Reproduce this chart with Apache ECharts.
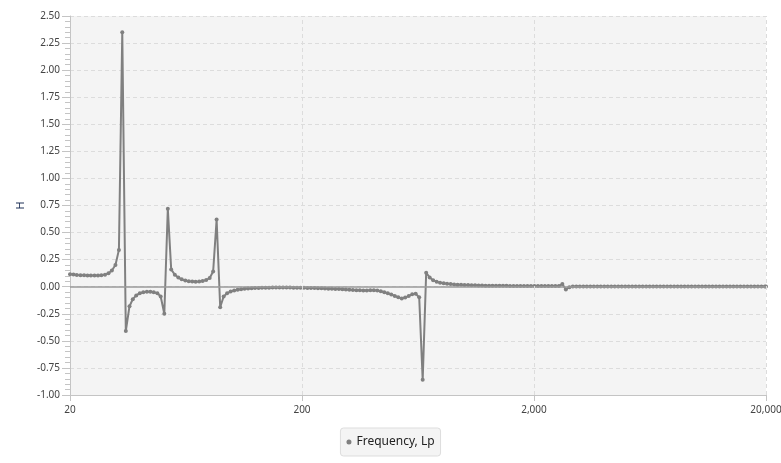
<!DOCTYPE html>
<html>
<head>
<meta charset="utf-8">
<script src="https://cdn.jsdelivr.net/npm/echarts@6/dist/echarts.min.js"></script>
<style>
html,body{margin:0;padding:0;background:#fff;}
#chart{width:781px;height:463px;}
</style>
</head>
<body>
<div id="chart"></div>
<script>
// Frequencies (Hz), 1/20-octave grid
const freqs = [
  20.0, 20.7, 21.4, 22.2, 23.0, 23.8, 24.6, 25.5, 26.4, 27.3, 28.3, 29.3, 30.3, 31.4, 32.5, 33.6, 34.8, 36.1, 37.3, 38.6,
  40.0, 41.4, 42.9, 44.4, 45.9, 47.6, 49.2, 51.0, 52.8, 54.6, 56.6, 58.6, 60.6, 62.8, 65.0, 67.3, 69.6, 72.1, 74.6, 77.3,
  80.0, 82.8, 85.7, 88.8, 91.9, 95.1, 98.5, 102.0, 105.6, 109.3, 113.1, 117.1, 121.3, 125.5, 130.0, 134.5, 139.3, 144.2, 149.3, 154.5,
  160, 165.6, 171.5, 177.5, 183.8, 190.3, 197.0, 203.9, 211.1, 218.6, 226.3, 234.3, 242.5, 251.1, 259.9, 269.1, 278.6, 288.4, 298.6, 309.1,
  320, 331.3, 343.0, 355.1, 367.6, 380.5, 393.9, 407.9, 422.2, 437.1, 452.5, 468.5, 485.0, 502.1, 519.8, 538.2, 557.1, 576.8, 597.1, 618.2,
  640, 662.6, 685.9, 710.1, 735.1, 761.0, 787.8, 815.7, 844.5, 874.3, 905.1, 937.0, 970.0, 1004.3, 1039.7, 1076.4, 1114.3, 1153.6, 1194.3, 1236.4,
  1280, 1325.1, 1371.9, 1420.2, 1470.3, 1522.2, 1575.7, 1631.4, 1689.0, 1748.5, 1810.2, 1874.0, 1940.1, 2008.5, 2079.4, 2152.6, 2228.6, 2307.2, 2388.6, 2472.8,
  2560, 2650.1, 2743.7, 2840.4, 2940.6, 3044.4, 3151.4, 3262.7, 3378.0, 3497.1, 3620.4, 3748.0, 3880.2, 4017.0, 4158.7, 4305.3, 4457.2, 4614.3, 4777.3, 4945.5,
  5120, 5300.3, 5487.4, 5680.9, 5881.3, 6088.7, 6303.5, 6525.7, 6756.0, 6994.2, 7240.7, 7496.2, 7760.4, 8034.1, 8317.5, 8610.6, 8914.4, 9228.7, 9554.6, 9890.9,
  10240, 10600.9, 10974.7, 11361.8, 11762.5, 12177.7, 12606.5, 13051.5, 13512.3, 13988.4, 14481.2, 14990.6, 15520.6, 16067.6, 16634.8, 17221.6, 17828.5, 18457.5, 19108.9, 19782.0,
  20000
];

// H values (Frequency, Lp)
const lpValues = [
  0.115, 0.112, 0.109, 0.107, 0.105, 0.104, 0.103, 0.103, 0.104, 0.106,
  0.110, 0.125, 0.15, 0.20, 0.34, 2.35, -0.41, -0.18, -0.115, -0.08,
  -0.06, -0.05, -0.046, -0.046, -0.05, -0.06, -0.09, -0.25, 0.72, 0.16,
  0.11, 0.085, 0.068, 0.058, 0.051, 0.047, 0.046, 0.048, 0.052, 0.062,
  0.08, 0.14, 0.62, -0.19, -0.09, -0.06, -0.045, -0.035, -0.028, -0.023,
  -0.019, -0.016, -0.014, -0.012, -0.011, -0.010, -0.009, -0.009, -0.008, -0.008,
  -0.008, -0.008, -0.008, -0.008, -0.009, -0.009, -0.010, -0.010, -0.011, -0.012,
  -0.013, -0.014, -0.015, -0.016, -0.018, -0.019, -0.021, -0.022, -0.024, -0.026,
  -0.028, -0.030, -0.032, -0.033, -0.034, -0.034, -0.032, -0.033, -0.036, -0.042,
  -0.050, -0.060, -0.072, -0.085, -0.097, -0.108, -0.100, -0.085, -0.070, -0.065,
  -0.098, -0.86, 0.13, 0.085, 0.06, 0.045, 0.037, 0.031, 0.027, 0.024,
  0.021, 0.019, 0.017, 0.016, 0.015, 0.014, 0.013, 0.012, 0.011, 0.010,
  0.010, 0.009, 0.009, 0.008, 0.008, 0.008, 0.007, 0.007, 0.007, 0.007,
  0.006, 0.006, 0.006, 0.006, 0.006, 0.006, 0.006, 0.006, 0.006, 0.006,
  0.007, 0.025, -0.025, -0.005, 0.002, 0.003, 0.003, 0.003, 0.003, 0.003,
  0.003, 0.003, 0.003, 0.003, 0.003, 0.003, 0.003, 0.003, 0.003, 0.003,
  0.003, 0.003, 0.003, 0.003, 0.003, 0.003, 0.003, 0.003, 0.003, 0.003,
  0.003, 0.003, 0.003, 0.003, 0.003, 0.002, 0.002, 0.002, 0.002, 0.002,
  0.002, 0.002, 0.002, 0.002, 0.002, 0.002, 0.002, 0.002, 0.002, 0.002,
  0.002, 0.002, 0.002, 0.002, 0.002, 0.002, 0.002, 0.002, 0.002, 0.002,
  0.002
];

// Axis ticks
const xTicks = [20, 200, 2000, 20000];
const yMin = -1.0, yMax = 2.5, yStep = 0.25;
const seriesName = 'Frequency, Lp';
const yAxisName = 'H';

const FONT = '"Noto Sans", "Open Sans", sans-serif';
const seriesData = freqs.map((f, i) => [f, lpValues[i]]);

const chart = echarts.init(document.getElementById('chart'), null, {renderer: 'canvas'});
chart.setOption({
  animation: false,
  backgroundColor: '#ffffff',
  textStyle: {fontFamily: FONT},
  grid: {left: 70, right: 15, top: 16, bottom: 68, show: true, backgroundColor: '#f4f4f4', borderWidth: 0,
         outerBoundsMode: 'none', containLabel: false},
  legend: {
    show: true,
    bottom: 7,
    left: 'center',
    data: [seriesName],
    icon: 'circle',
    itemWidth: 5,
    itemHeight: 5,
    itemGap: 6,
    padding: [8, 6, 8, 6],
    backgroundColor: '#f4f4f4',
    borderColor: '#dddddd',
    borderWidth: 1,
    borderRadius: 3,
    textStyle: {fontFamily: FONT, fontSize: 12, color: '#222'}
  },
  xAxis: {
    type: 'log',
    logBase: 10,
    min: 20,
    max: 20000,
    axisLine: {show: true, onZero: false, lineStyle: {color: '#c4c4c4', width: 1}},
    axisTick: {show: true, length: 6, customValues: xTicks, lineStyle: {color: '#c4c4c4'}},
    axisLabel: {
      customValues: xTicks,
      fontSize: 10,
      color: '#444',
      margin: 10,
      fontFamily: FONT,
      hideOverlap: false,
      formatter: v => Math.round(v).toLocaleString('en-US')
    },
    splitLine: {show: false},
    minorTick: {show: false},
    minorSplitLine: {show: false}
  },
  yAxis: {
    type: 'value',
    min: yMin,
    max: yMax,
    interval: yStep,
    name: yAxisName,
    nameLocation: 'middle',
    nameRotate: 90,
    nameGap: 44,
    nameTextStyle: {color: '#1b2d55', fontSize: 11, fontFamily: FONT},
    axisLine: {show: true, lineStyle: {color: '#c4c4c4', width: 1}},
    axisTick: {show: true, length: 8, lineStyle: {color: '#c4c4c4'}},
    minorTick: {show: true, splitNumber: 5, length: 5, lineStyle: {color: '#c4c4c4'}},
    axisLabel: {
      fontSize: 10,
      color: '#444',
      margin: 10,
      fontFamily: FONT,
      formatter: v => v.toFixed(2)
    },
    splitLine: {show: true, lineStyle: {color: '#dcdcdc', type: [4, 3], width: 1}}
  },
  series: [{
    name: seriesName,
    type: 'line',
    data: seriesData,
    showSymbol: true,
    symbol: 'circle',
    symbolSize: 4,
    color: '#808080',
    lineStyle: {color: '#808080', width: 2},
    itemStyle: {color: '#808080'},
    emphasis: {disabled: true},
    markLine: {
      silent: true,
      symbol: ['none', 'none'],
      label: {show: false},
      animation: false,
      data: [
        {yAxis: 0, lineStyle: {color: '#9a9a9a', type: 'solid', width: 1.5}},
        {xAxis: 200, lineStyle: {color: '#dcdcdc', type: [4, 3], width: 1}},
        {xAxis: 2000, lineStyle: {color: '#dcdcdc', type: [4, 3], width: 1}},
        {xAxis: 20000, lineStyle: {color: '#dcdcdc', type: [4, 3], width: 1}}
      ]
    }
  }]
});
</script>
</body>
</html>
